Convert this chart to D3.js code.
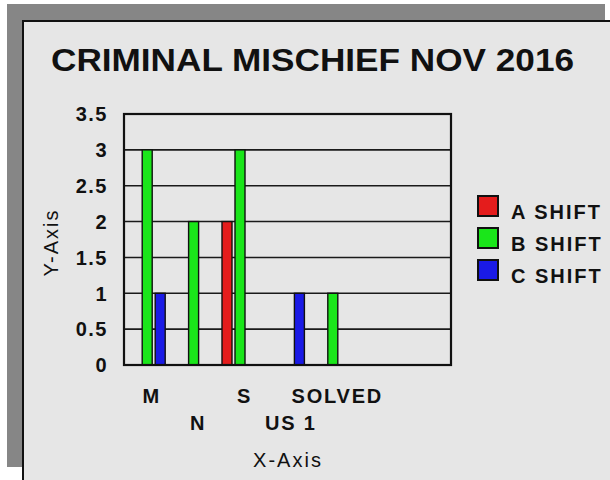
<!DOCTYPE html>
<html>
<head>
<meta charset="utf-8">
<script src="https://cdn.jsdelivr.net/npm/d3@7"></script>
<style>
  html, body { margin: 0; padding: 0; background: #fff; }
  svg text { font-family: "Liberation Sans", Arial, sans-serif; fill: #111; }
</style>
</head>
<body>
<div id="chart"></div>
<script>
// chart values
var categories = ["M", "N", "S", "US 1", "SOLVED"];
var seriesNames = ["A SHIFT", "B SHIFT", "C SHIFT"];
var aShift = [0, 0, 2, 0, 0];
var bShift = [3, 2, 3, 0, 1];
var cShift = [1, 0, 0, 1, 0];
var yTicks = [0, 0.5, 1, 1.5, 2, 2.5, 3, 3.5];
var colors = ["#e41c1c", "#1ae61a", "#1a1ae6"];

var W = 610, H = 480;
var svg = d3.select("#chart").append("svg")
    .attr("width", W)
    .attr("height", H);

// drop shadow + panel
svg.append("rect")
    .attr("x", 7).attr("y", 4)
    .attr("width", 598).attr("height", 463)
    .attr("fill", "#868686");
svg.append("rect")
    .attr("x", 23).attr("y", 21)
    .attr("width", 600).attr("height", 470)
    .attr("fill", "#e6e6e6")
    .attr("stroke", "#111")
    .attr("stroke-width", 2);

// title
svg.append("text")
    .attr("x", 312.5).attr("y", 71)
    .attr("text-anchor", "middle")
    .attr("font-size", 32)
    .attr("font-weight", "bold")
    .attr("textLength", 523)
    .attr("lengthAdjust", "spacingAndGlyphs")
    .text("CRIMINAL MISCHIEF NOV 2016");

// plot area
var plot = { left: 124, top: 114, right: 451, bottom: 365 };

var y = d3.scaleLinear()
    .domain([0, 3.5])
    .range([plot.bottom, plot.top]);

// categories only fill the left part of the plot
var x = d3.scaleBand()
    .domain(categories)
    .range([plot.left, plot.left + 46.4 * categories.length])
    .padding(0);

var xInner = d3.scaleBand()
    .domain(seriesNames)
    .range([-18, 18])
    .paddingInner(3 / 13)
    .paddingOuter(0);

// gridlines
svg.append("g").classed("grid", true)
    .selectAll("line")
    .data(yTicks.slice(1, -1))
    .join("line")
    .attr("x1", plot.left).attr("x2", plot.right)
    .attr("y1", function (d) { return y(d); })
    .attr("y2", function (d) { return y(d); })
    .attr("stroke", "#1a1a1a")
    .attr("stroke-width", 1.6);

// bars
var rows = categories.map(function (c, i) {
    return { cat: c, values: [aShift[i], bShift[i], cShift[i]] };
});
var bars = [];
rows.forEach(function (r) {
    r.values.forEach(function (v, j) {
        if (v > 0) bars.push({ cat: r.cat, series: seriesNames[j], value: v, color: colors[j] });
    });
});

svg.append("g").classed("bars", true)
    .selectAll("rect")
    .data(bars)
    .join("rect")
    .attr("x", function (d) { return x(d.cat) + x.bandwidth() / 2 + xInner(d.series); })
    .attr("width", xInner.bandwidth())
    .attr("y", function (d) { return y(d.value); })
    .attr("height", function (d) { return y(0) - y(d.value); })
    .attr("fill", function (d) { return d.color; })
    .attr("stroke", "#111")
    .attr("stroke-width", 1.4);

// frame
svg.append("rect")
    .attr("x", plot.left).attr("y", plot.top)
    .attr("width", plot.right - plot.left)
    .attr("height", plot.bottom - plot.top)
    .attr("fill", "none")
    .attr("stroke", "#111")
    .attr("stroke-width", 2.2);

// y tick labels
svg.append("g").classed("y-labels", true)
    .selectAll("text")
    .data(yTicks)
    .join("text")
    .attr("x", 108)
    .attr("y", function (d) { return y(d) + 7.3; })
    .attr("text-anchor", "end")
    .attr("font-size", 20)
    .attr("font-weight", "bold")
    .attr("letter-spacing", 1.5)
    .text(function (d) { return d; });

// x tick labels, staggered in two rows
svg.append("g").classed("x-labels", true)
    .selectAll("text")
    .data(categories)
    .join("text")
    .attr("x", function (d) { return x(d) + x.bandwidth() / 2 + 4.5; })
    .attr("y", function (d, i) { return i % 2 === 0 ? 403.3 : 430; })
    .attr("text-anchor", "middle")
    .attr("font-size", 20)
    .attr("font-weight", "bold")
    .attr("letter-spacing", 1.8)
    .text(function (d) { return d; });

// axis titles
svg.append("text")
    .attr("x", 288).attr("y", 466.7)
    .attr("text-anchor", "middle")
    .attr("font-size", 20)
    .attr("letter-spacing", 2)
    .text("X-Axis");
svg.append("text")
    .attr("transform", "translate(57.5,242.5) rotate(-90)")
    .attr("text-anchor", "middle")
    .attr("font-size", 20)
    .attr("letter-spacing", 2)
    .text("Y-Axis");

// legend
var legend = svg.append("g").classed("legend", true)
    .selectAll("g")
    .data(seriesNames)
    .join("g")
    .attr("transform", function (d, i) { return "translate(478," + (196 + i * 32) + ")"; });
legend.append("rect")
    .attr("width", 20).attr("height", 20)
    .attr("fill", function (d, i) { return colors[i]; })
    .attr("stroke", "#111")
    .attr("stroke-width", 2);
legend.append("text")
    .attr("x", 33).attr("y", 23)
    .attr("font-size", 20)
    .attr("font-weight", "bold")
    .attr("letter-spacing", 2)
    .text(function (d) { return d; });
</script>
</body>
</html>
